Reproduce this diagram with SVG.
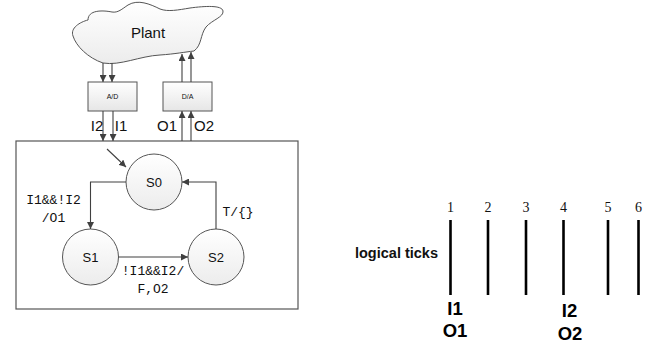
<svg xmlns="http://www.w3.org/2000/svg" width="665" height="354" viewBox="0 0 665 354">
<defs>
<linearGradient id="gfill" x1="0" y1="0" x2="0" y2="1">
<stop offset="0" stop-color="#ffffff"/>
<stop offset="1" stop-color="#e6e6e6"/>
</linearGradient>
<linearGradient id="cfill" x1="0" y1="0" x2="0" y2="1">
<stop offset="0" stop-color="#ffffff"/>
<stop offset="1" stop-color="#ececec"/>
</linearGradient>
<marker id="ah" viewBox="0 0 10 10" refX="10" refY="5" markerWidth="7" markerHeight="7" markerUnits="userSpaceOnUse" orient="auto">
<path d="M0,0 L10,5 L0,10 Z" fill="#404040"/>
</marker>
</defs>
<style>
.ln{fill:none;stroke:#404040;stroke-width:1.1;}
.bx{fill:url(#gfill);stroke:#555;stroke-width:1;}
.st{fill:url(#cfill);stroke:#555;stroke-width:1;}
.sans{font-family:"Liberation Sans",Arial,sans-serif;fill:#111;}
.mono{font-family:"Liberation Mono","DejaVu Sans Mono",monospace;font-size:13px;fill:#111;}
.tick{stroke:#000;stroke-width:2.6;}
.num{font-family:"Liberation Serif","Times New Roman",serif;font-size:14px;fill:#111;text-anchor:middle;}
.big{font-family:"Liberation Sans",Arial,sans-serif;font-weight:bold;font-size:18.5px;fill:#000;text-anchor:middle;}
</style>
<rect width="665" height="354" fill="#fff"/>
<g id="plant">
<path d="M88,20 C80,22 70,28 73,36 C76,46 88,58 103,63 C120,66 140,56 160,55 C175,54 185,52 194,51 C202,45 200,35 206,27 C212,20 224,17 223,11 C222,5 205,6 190,8 C178,10 168,12 160,9 C150,4 138,-1 128,5 C122,9 118,13 112,12 C102,10 88,10 88,20 Z" fill="url(#cfill)" stroke="#555" stroke-width="1"/>
<text class="sans" x="148" y="38" font-size="15" text-anchor="middle">Plant</text>
</g>
<g id="ad">
<rect class="bx" x="88" y="82" width="49" height="29"/>
<text class="sans" x="112.5" y="99" font-size="7" text-anchor="middle">A/D</text>
</g>
<g id="da">
<rect class="bx" x="163" y="82" width="49" height="29"/>
<text class="sans" x="187.5" y="99" font-size="7" text-anchor="middle">D/A</text>
</g>
<g id="system">
<rect x="16" y="141" width="282" height="168" fill="#fff" stroke="#555" stroke-width="1.2"/>
</g>
<g id="S0">
<circle class="st" cx="154" cy="182" r="28"/>
<text class="sans" x="154" y="187" font-size="13" text-anchor="middle">S0</text>
</g>
<g id="S1">
<circle class="st" cx="90.5" cy="257" r="28"/>
<text class="sans" x="90.5" y="262" font-size="13" text-anchor="middle">S1</text>
</g>
<g id="S2">
<circle class="st" cx="216" cy="257" r="28"/>
<text class="sans" x="216" y="262" font-size="13" text-anchor="middle">S2</text>
</g>
<g id="connectors">
<line class="ln" x1="103" y1="63" x2="103" y2="82" marker-end="url(#ah)"/>
<line class="ln" x1="112" y1="63" x2="112" y2="82" marker-end="url(#ah)"/>
<line class="ln" x1="182" y1="82" x2="182" y2="54" marker-end="url(#ah)"/>
<line class="ln" x1="191" y1="82" x2="191" y2="52" marker-end="url(#ah)"/>
<line class="ln" x1="103" y1="111" x2="103" y2="141" marker-end="url(#ah)"/>
<line class="ln" x1="113" y1="111" x2="113" y2="141" marker-end="url(#ah)"/>
<line class="ln" x1="182" y1="141" x2="182" y2="111" marker-end="url(#ah)"/>
<line class="ln" x1="191" y1="141" x2="191" y2="111" marker-end="url(#ah)"/>
<line class="ln" x1="107" y1="149" x2="126" y2="167" marker-end="url(#ah)"/>
<polyline class="ln" points="126,182 90.5,182 90.5,229" marker-end="url(#ah)"/>
<line class="ln" x1="118.5" y1="257" x2="188" y2="257" marker-end="url(#ah)"/>
<polyline class="ln" points="216,229 216,182 182,182" marker-end="url(#ah)"/>
</g>
<g id="labels">
<text class="sans" x="97" y="131" font-size="15" text-anchor="middle">I2</text>
<text class="sans" x="121" y="131" font-size="15" text-anchor="middle">I1</text>
<text class="sans" x="167" y="131" font-size="15" text-anchor="middle">O1</text>
<text class="sans" x="204" y="131" font-size="15" text-anchor="middle">O2</text>
<text class="mono" x="53.5" y="204" text-anchor="middle">I1&amp;&amp;!I2</text>
<text class="mono" x="53.5" y="222" text-anchor="middle">/O1</text>
<text class="mono" x="153" y="275" text-anchor="middle">!I1&amp;&amp;I2/</text>
<text class="mono" x="153" y="293" text-anchor="middle">F,O2</text>
<text class="mono" x="238" y="216" text-anchor="middle">T/{}</text>
</g>
<g id="ticks">
<text class="num" x="450.5" y="212">1</text>
<text class="num" x="488" y="212">2</text>
<text class="num" x="526" y="212">3</text>
<text class="num" x="563.5" y="212">4</text>
<text class="num" x="608" y="212">5</text>
<text class="num" x="638.5" y="212">6</text>
<line class="tick" x1="450.5" y1="220" x2="450.5" y2="295"/>
<line class="tick" x1="488" y1="220" x2="488" y2="295"/>
<line class="tick" x1="526" y1="220" x2="526" y2="295"/>
<line class="tick" x1="563.5" y1="220" x2="563.5" y2="295"/>
<line class="tick" x1="608" y1="220" x2="608" y2="295"/>
<line class="tick" x1="638.5" y1="220" x2="638.5" y2="295"/>
<text class="sans" x="438" y="258" font-size="14.5" font-weight="bold" text-anchor="end" fill="#000">logical ticks</text>
<text class="big" x="455" y="315">I1</text>
<text class="big" x="455" y="337">O1</text>
<text class="big" x="569.5" y="317">I2</text>
<text class="big" x="570" y="340">O2</text>
</g>
</svg>
